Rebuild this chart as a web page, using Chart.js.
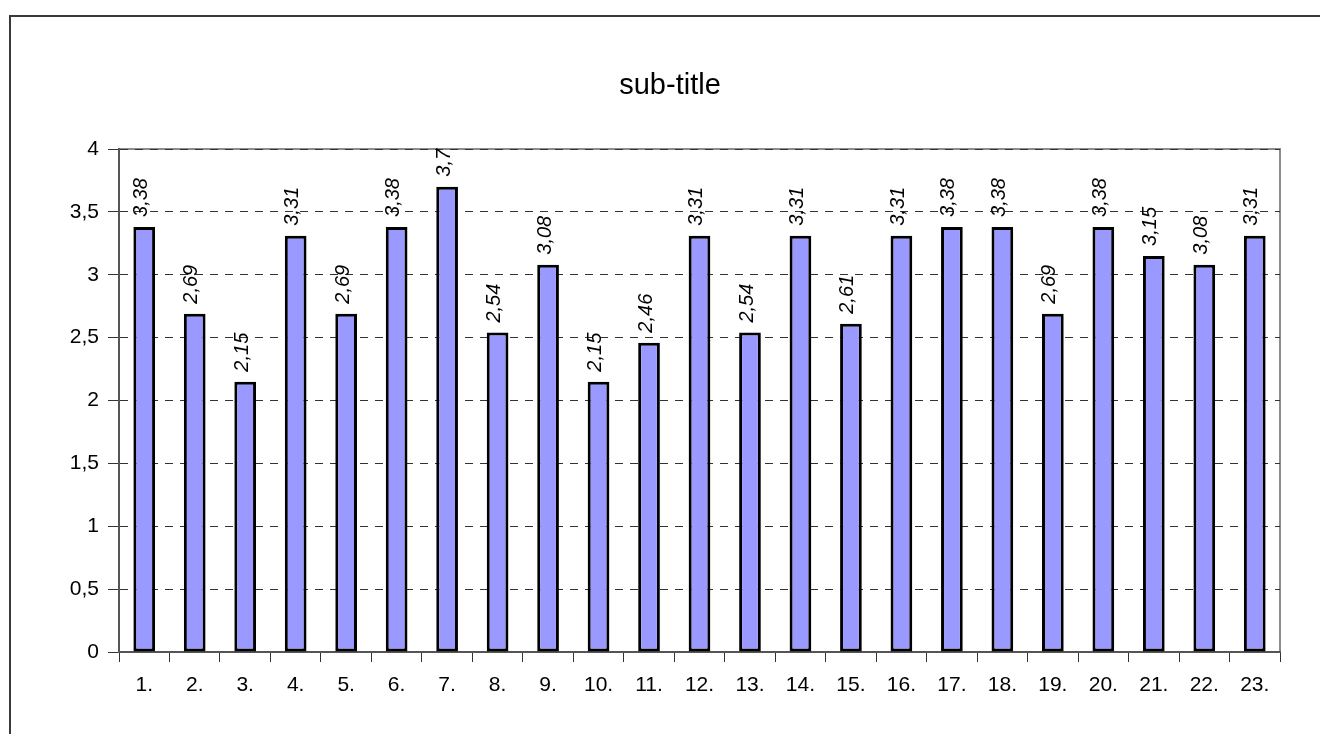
<!DOCTYPE html>
<html>
<head>
<meta charset="utf-8">
<script src="https://cdn.jsdelivr.net/npm/chart.js@4/dist/chart.umd.min.js"></script>
<style>
  html, body { margin: 0; padding: 0; background: #ffffff; }
  #wrap { width: 1320px; height: 734px; position: relative; }
</style>
</head>
<body>
<div id="wrap"><canvas id="c" width="1320" height="734"></canvas></div>
<script>
const categories = ["1.", "2.", "3.", "4.", "5.", "6.", "7.", "8.", "9.", "10.", "11.", "12.",
  "13.", "14.", "15.", "16.", "17.", "18.", "19.", "20.", "21.", "22.", "23."];
const values = [3.38, 2.69, 2.15, 3.31, 2.69, 3.38, 3.7, 2.54, 3.08, 2.15, 2.46, 3.31,
  2.54, 3.31, 2.61, 3.31, 3.38, 3.38, 2.69, 3.38, 3.15, 3.08, 3.31];
const titleText = "sub-title";
const yMin = 0, yMax = 4, yStep = 0.5;

const FONT = "'Liberation Sans', Arial, sans-serif";
const fmt = v => String(v).replace('.', ',');

const framePlugin = {
  id: 'frame',
  beforeDraw(chart) {
    const ctx = chart.ctx;
    const a = chart.chartArea;
    ctx.save();
    // outer chart border
    ctx.strokeStyle = '#3a3a3a';
    ctx.lineWidth = 2;
    ctx.strokeRect(10, 16, 1400, 1000);
    // plot area frame
    ctx.strokeStyle = '#8c8c8c';
    ctx.lineWidth = 2;
    ctx.strokeRect(a.left, a.top, a.right - a.left, a.bottom - a.top);
    // title
    ctx.fillStyle = '#000';
    ctx.font = '29px ' + FONT;
    ctx.textAlign = 'center';
    ctx.textBaseline = 'alphabetic';
    ctx.fillText(titleText, 670, 94);
    ctx.restore();
  }
};

const labelPlugin = {
  id: 'barLabels',
  afterDatasetsDraw(chart) {
    const ctx = chart.ctx;
    const meta = chart.getDatasetMeta(0);
    ctx.save();
    ctx.fillStyle = '#000';
    ctx.font = 'italic 20px ' + FONT;
    ctx.textAlign = 'left';
    ctx.textBaseline = 'middle';
    meta.data.forEach((bar, i) => {
      ctx.save();
      ctx.translate(bar.x - 3, bar.y - 10);
      ctx.rotate(-Math.PI / 2);
      ctx.fillText(fmt(values[i]), 0, 0);
      ctx.restore();
    });
    ctx.restore();
  }
};

new Chart(document.getElementById('c'), {
  type: 'bar',
  data: {
    labels: categories,
    datasets: [{
      data: values,
      backgroundColor: '#9999ff',
      borderColor: '#000000',
      borderWidth: 3,
      borderSkipped: false,
      categoryPercentage: 1.0,
      barPercentage: 0.43
    }]
  },
  options: {
    responsive: false,
    animation: false,
    devicePixelRatio: 1,
    layout: { padding: { top: 149, right: 40, bottom: 0, left: 0 } },
    plugins: {
      legend: { display: false },
      tooltip: { enabled: false },
      title: { display: false }
    },
    scales: {
      x: {
        grid: {
          display: true,
          offset: true,
          drawOnChartArea: false,
          drawTicks: true,
          tickLength: 10,
          tickColor: '#333',
          tickWidth: 1
        },
        border: { display: true, color: '#555', width: 2 },
        ticks: {
          color: '#000',
          font: { family: FONT, size: 21 },
          padding: 11,
          maxRotation: 0,
          autoSkip: false
        },
        afterFit(scale) { scale.height = 82; }
      },
      y: {
        min: yMin,
        max: yMax,
        grid: {
          display: true,
          color: '#333',
          lineWidth: 1,
          drawTicks: true,
          tickLength: 11,
          tickColor: '#333',
          tickWidth: 1,
          tickBorderDash: []
        },
        border: { display: true, color: '#555', width: 2, dash: [8, 7] },
        ticks: {
          stepSize: yStep,
          color: '#000',
          font: { family: FONT, size: 21 },
          padding: 9,
          callback: v => fmt(v)
        },
        afterFit(scale) { scale.width = 119; }
      }
    }
  },
  plugins: [framePlugin, labelPlugin]
});
</script>
</body>
</html>
